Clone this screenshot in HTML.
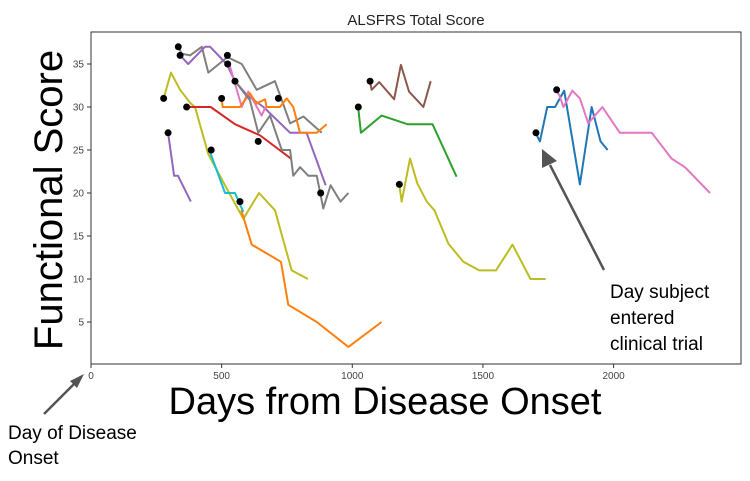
<!DOCTYPE html>
<html><head><meta charset="utf-8"><style>
body{margin:0;background:#fff;width:750px;height:481px;overflow:hidden}
svg{display:block;font-family:"Liberation Sans",sans-serif}
</style></head><body>
<svg id="chart" width="750" height="481">
<rect x="91" y="32" width="650" height="332" fill="#fff" stroke="#333" stroke-width="1"/>
<text x="416" y="25" text-anchor="middle" font-size="15" fill="#222">ALSFRS Total Score</text>
<g id="yticks"></g><g id="xticks"></g><g id="series"></g><g id="dots"></g>
<text x="385" y="414" text-anchor="middle" font-size="38" fill="#000">Days from Disease Onset</text>
<text transform="translate(62,200) rotate(-90)" text-anchor="middle" font-size="40" fill="#000">Functional Score</text>
<g>
<line x1="44" y1="414" x2="76" y2="382" stroke="#555" stroke-width="2.5"/>
<polygon points="84,374 70,381 77,388" fill="#555"/>
<text x="8" y="439" font-size="19" fill="#000">Day of Disease</text>
<text x="8" y="464" font-size="19" fill="#000">Onset</text>
</g>
<g>
<line x1="604" y1="270" x2="550" y2="165" stroke="#555" stroke-width="2.5"/>
<polygon points="542,149 542,168 557,161" fill="#555"/>
<text x="610" y="298" font-size="19" fill="#000">Day subject</text>
<text x="610" y="324" font-size="19" fill="#000">entered</text>
<text x="610" y="350" font-size="19" fill="#000">clinical trial</text>
</g>
</svg>
<script>
const xTicks=[0,500,1000,1500,2000];
const yTicks=[5,10,15,20,25,30,35];
const colors=["#9467bd","#bcbd22","#17becf","#ff7f0e","#d62728","#7f7f7f","#9467bd","#e377c2","#ff7f0e","#7f7f7f","#8c564b","#2ca02c","#bcbd22","#1f77b4","#e377c2"];
const s0=[[295,27],[318,22],[333,22],[382,19]];
const s1=[[278,31],[306,34],[341,32],[379,30.5],[398,30],[449,24.5],[520,20.5],[583,17],[643,20],[704,18],[768,11],[830,10]];
const s2=[[455,24.8],[513,20],[551,20],[583,17.8]];
const s3=[[575,18],[615,14],[727,12],[755,7],[864,5],[985,2.1],[1112,5]];
const s4=[[366,30],[379,30],[458,30],[551,28],[647,26.7],[765,24]];
const s5=[[334,37],[347,36.2],[379,36],[424,37],[449,34],[522,35.8],[577,35],[634,32],[704,33],[762,28.1],[813,28.9],[883,27]];
const s6=[[347,35.8],[372,35],[436,37],[456,37],[519,35],[551,33],[596,31.4],[660,30],[762,27],[825,27],[898,20.9]];
const s7=[[523,35],[532,34.7],[577,30],[602,31.8],[653,29],[668,30]];
const s8=[[500,31],[504,30],[570,30],[608,31.6],[634,30.4],[666,30.9],[672,30],[723,30],[749,31],[774,30],[800,27],[864,27],[902,28]];
const s9=[[551,33],[608,30.8],[640,27],[685,29],[730,25],[762,25],[774,22],[800,23],[832,22],[864,22],[889,18.2],[917,20.9],[955,19],[985,20]];
const s10=[[1068,32.9],[1074,32],[1103,32.9],[1160,30.9],[1186,34.9],[1217,31.8],[1272,30],[1300,33]];
const s11=[[1023,29.8],[1033,27],[1112,29],[1211,28],[1307,28],[1399,21.9]];
const s12=[[1180,20.9],[1189,19],[1221,24],[1249,21.1],[1285,19],[1314,18],[1368,14.1],[1425,12],[1486,11],[1550,11],[1613,14],[1682,10],[1740,10]];
const s13=[[1703,26.9],[1718,26],[1746,30],[1776,30],[1811,31.9],[1871,21],[1916,30],[1950,26],[1977,25]];
const s14=[[1782,31.8],[1792,31.4],[1808,30],[1842,31.9],[1871,31],[1903,28.1],[1957,30],[2024,27],[2146,27],[2222,24],[2273,23],[2369,20]];
const entryDots=[[295,27],[278,31],[334,37],[341,36],[366,30],[460,25],[500,31],[522,36],[523,35],[551,33],[570,19],[640,26],[717,31],[879,20],[1023,30],[1068,33],[1180,21],[1703,27],[1782,32]];
const allSeries=[s0,s1,s2,s3,s4,s5,s6,s7,s8,s9,s10,s11,s12,s13,s14];
const NS="http://www.w3.org/2000/svg";
const X=d=>91+d*0.2613, Y=v=>365-v*8.6;
function mk(t,a,p){const e=document.createElementNS(NS,t);for(const k in a)e.setAttribute(k,a[k]);p.appendChild(e);return e;}
const yt=document.getElementById('yticks');
yTicks.forEach(v=>{const g=mk('g',{},yt);


mk('line',{x1:87,x2:91,y1:Y(v),y2:Y(v),stroke:'#333'},g);
const t=mk('text',{x:84,y:Y(v)+3.5,'text-anchor':'end','font-size':10,fill:'#444'},g);t.textContent=v;});
const xt=document.getElementById('xticks');
xTicks.forEach(v=>{const g=mk('g',{},xt);


mk('line',{x1:X(v),x2:X(v),y1:364,y2:368,stroke:'#333'},g);
const t=mk('text',{x:X(v),y:379,'text-anchor':'middle','font-size':10,fill:'#444'},g);t.textContent=v;});
const sg=document.getElementById('series');
allSeries.forEach((s,i)=>{const p=mk('polyline',{points:s.map(d=>X(d[0])+','+Y(d[1])).join(' '),fill:'none',stroke:colors[i],'stroke-width':2,'stroke-linejoin':'round'},sg);

});
const dg=document.getElementById('dots');
entryDots.forEach(d=>{const c=mk('circle',{cx:X(d[0]),cy:Y(d[1]),r:3.5,fill:'#000'},dg);

});
</script>
</body></html>
